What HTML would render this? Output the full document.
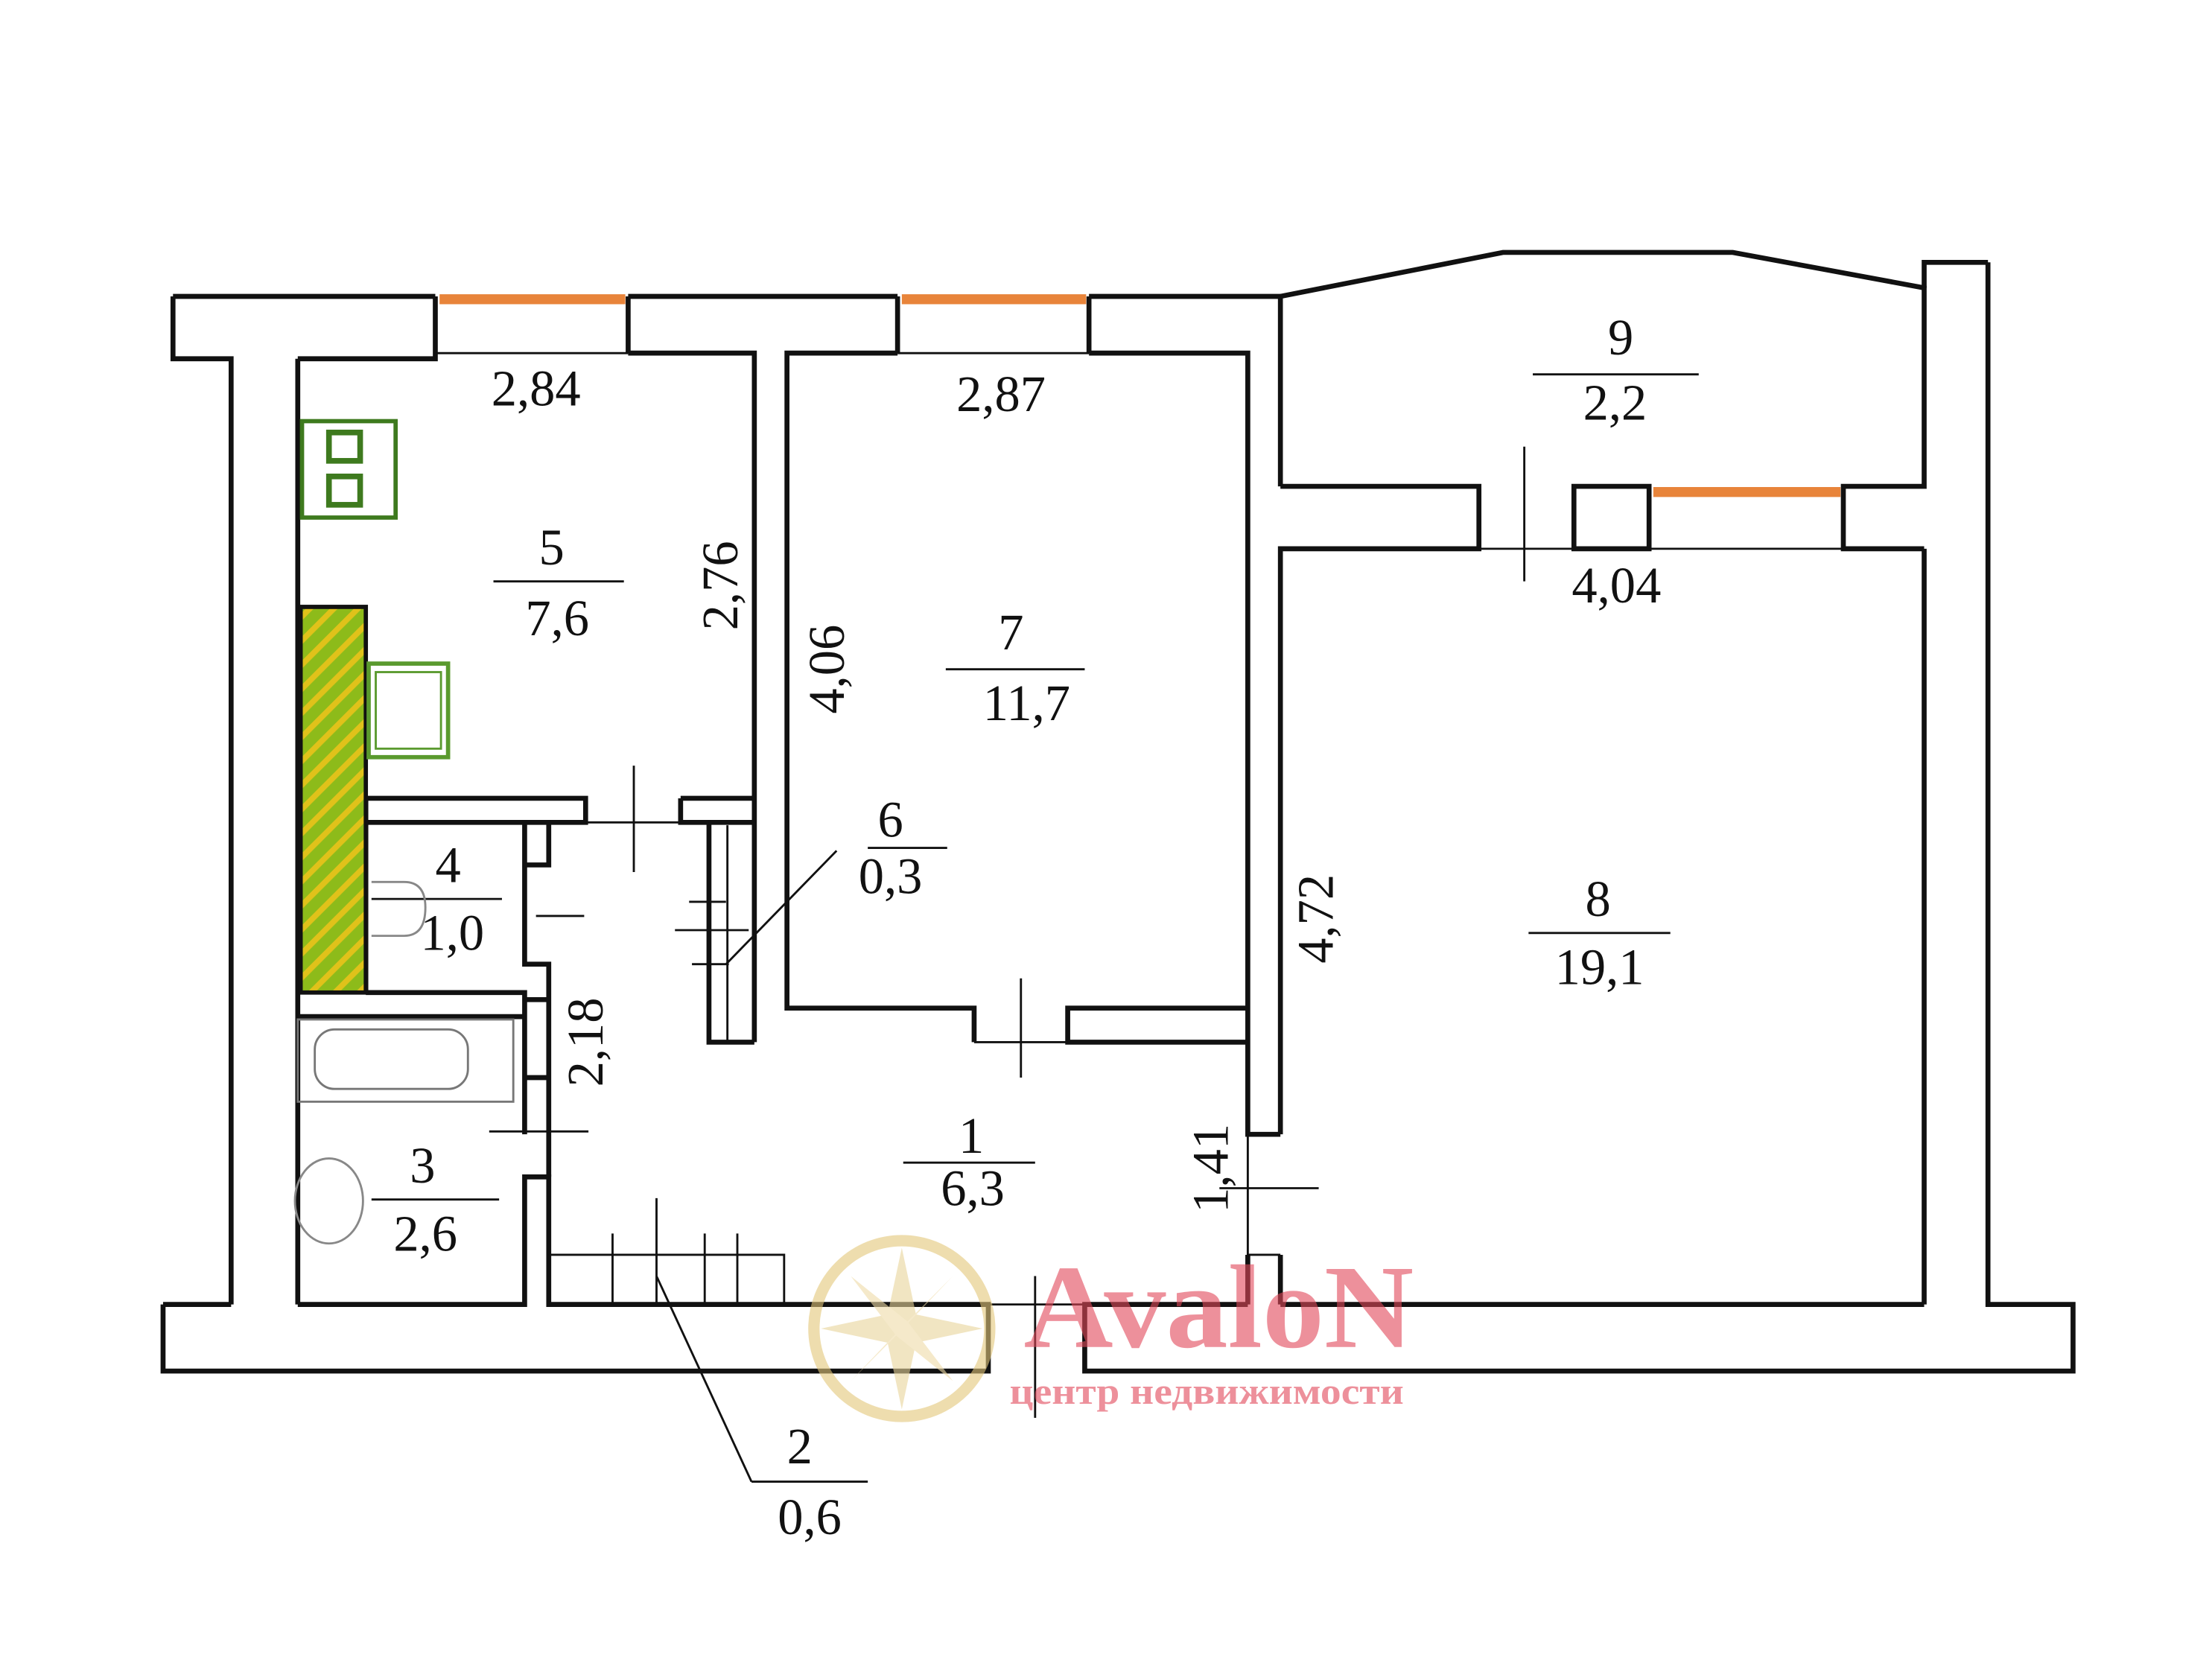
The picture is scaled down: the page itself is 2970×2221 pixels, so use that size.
<!DOCTYPE html>
<html><head><meta charset="utf-8"><style>html,body{margin:0;padding:0;background:#fff}svg{display:block}</style></head>
<body>
<svg width="2970" height="2221" viewBox="0 0 1560 1166.5" xmlns="http://www.w3.org/2000/svg">
<defs>
<pattern id="h" width="12" height="12" patternUnits="userSpaceOnUse" patternTransform="rotate(-45)">
<rect width="12" height="12" fill="#8dbb1a"/><rect width="12" height="4" fill="#e0c21a"/></pattern>
</defs>
<g fill="none" stroke="#111" stroke-width="3.5" stroke-linejoin="miter">
<path d="M122,209 H307 M122,209 V253 H163 V920 M210,253 V920 M210,253 H307 V209"/>
<path d="M443,209 H633 M443,209 V249 M633,209 V249 M768,209 V249 M768,209 H903 V343 M443,249 H532 V563 M633,249 H555 V711 H687 V735 M768,249 H880 V800 H903 M880,735 H753 V711 H880"/>
<path d="M903,209 L1060,178 L1222,178 L1357,203 V343 H1300 V387 H1357 M903,343 H1043 V387 H903 V800 M903,885 V920 M880,885 V920"/>
<path d="M1110,343 H1163 V387 H1110 Z M1357,387 V920 M1402,185 H1357 V203 M1402,185 V920 H1462 V967 H765 V920 H880 M903,920 H1357"/>
<path d="M115,920 V967 H697 V920 H387 V830 H370 V920 H210 M163,920 H115 M697,920 V967"/>
<path d="M258,563 H413 V580 H258 M480,563 H532 M480,563 V580 H500 V735 H532 M210,563 H258 V700 M258,700 H370 V705 M370,580 H387 V610 H370 Z M370,580 H258 M370,610 V680 H387 V705 H370 M387,680 V705 M370,705 H387 V760 H370 Z M370,760 V800 M387,760 V800 M210,717 H370 M370,830 H387 M387,760 V830"/>
<path d="M532,563 V735 M500,580 H532"/>
</g>
<g stroke="#111" stroke-width="1.5" fill="none">
<path d="M413,580 H480 M447,540 V615 M720,690 V760 M687,735 H753 M1075,315 V410 M1043,387 H1110 M880,885 H903 M880,800 V885 M860,838 H930 M387,885 H553 V920 M432,870 V920 M463,845 V920 M497,870 V920 M520,870 V920 M486,636 H512 M476,656 H528 M488,680 H514 M513,582 V735 M345,798 H415 M378,646 H412 M697,920 H765 M730,900 V1000 M765,920 V967 M463,900 L530,1045 M512,680 L590,600 M308,249 H443 M633,249 H768 M1163,387 H1300"/>
<path d="M348,410 H440 M262,634 H354 M1081,264 H1198 M667,472 H765 M612,598 H668 M1078,658 H1178 M637,820 H730 M262,846 H352 M530,1045 H612"/>
</g>
<g stroke="#e8843a" stroke-width="7"><path d="M310,211 H441 M636,211 H766 M1166,347 H1298"/></g>
<rect x="212" y="428" width="46" height="272" fill="url(#h)" stroke="#111" stroke-width="3"/>
<rect x="213" y="297" width="66" height="68" fill="none" stroke="#3e7a1e" stroke-width="3"/>
<rect x="232" y="305" width="22" height="20" fill="#fff" stroke="#3e7a1e" stroke-width="4"/>
<rect x="232" y="336" width="22" height="20" fill="#fff" stroke="#3e7a1e" stroke-width="4"/>
<rect x="260" y="468" width="56" height="66" fill="none" stroke="#5a9a2e" stroke-width="3"/>
<rect x="265" y="474" width="46" height="54" fill="none" stroke="#5a9a2e" stroke-width="1.5"/>
<rect x="210" y="719" width="152" height="58" fill="none" stroke="#777" stroke-width="1.5"/>
<rect x="222" y="726" width="108" height="42" rx="14" fill="none" stroke="#777" stroke-width="1.5"/>
<ellipse cx="232" cy="847" rx="24" ry="30" fill="none" stroke="#888" stroke-width="1.5"/>
<path d="M262,622 H285 Q300,622 300,640 Q300,660 285,660 H262" fill="none" stroke="#888" stroke-width="1.5"/>
<g opacity="0.6">
<circle cx="636" cy="937" r="62" fill="none" stroke="#e3c77a" stroke-width="8"/>
<polygon points="636,880 646,927 693,937 646,947 636,994 626,947 579,937 626,927" fill="#e8d49a"/>
<polygon points="600,900 640,932 672,974 632,942" fill="#f0dca8"/>
<polygon points="672,900 632,942 600,974 640,932" fill="#f0dca8"/>
<text x="722" y="950" font-family="Liberation Serif,serif" font-size="84" font-weight="bold" fill="#e2485a" textLength="275" lengthAdjust="spacingAndGlyphs">AvaloN</text>
<text x="712" y="990" font-family="Liberation Serif,serif" font-size="26" font-weight="bold" fill="#e2485a" textLength="278" lengthAdjust="spacingAndGlyphs">центр недвижимости</text>
</g>
<g font-family="Liberation Serif,serif" font-size="36" fill="#111" text-anchor="middle">
<text x="378" y="286">2,84</text><text x="706" y="290">2,87</text>
<text x="389" y="398">5</text><text x="393" y="448">7,6</text>
<text x="713" y="458">7</text><text x="724" y="508">11,7</text>
<text x="1143" y="250">9</text><text x="1139" y="296">2,2</text>
<text x="1140" y="425">4,04</text>
<text x="1127" y="646">8</text><text x="1128" y="694">19,1</text>
<text x="316" y="622">4</text><text x="319" y="670">1,0</text>
<text x="628" y="590">6</text><text x="628" y="630">0,3</text>
<text x="685" y="813">1</text><text x="686" y="850">6,3</text>
<text x="298" y="834">3</text><text x="300" y="882">2,6</text>
<text x="564" y="1032">2</text><text x="571" y="1082">0,6</text>
<text transform="translate(520,413) rotate(-90)">2,76</text>
<text transform="translate(595,472) rotate(-90)">4,06</text>
<text transform="translate(940,648) rotate(-90)">4,72</text>
<text transform="translate(425,735) rotate(-90)">2,18</text>
<text transform="translate(866,824) rotate(-90)">1,41</text>
</g>
</svg>
</body></html>
